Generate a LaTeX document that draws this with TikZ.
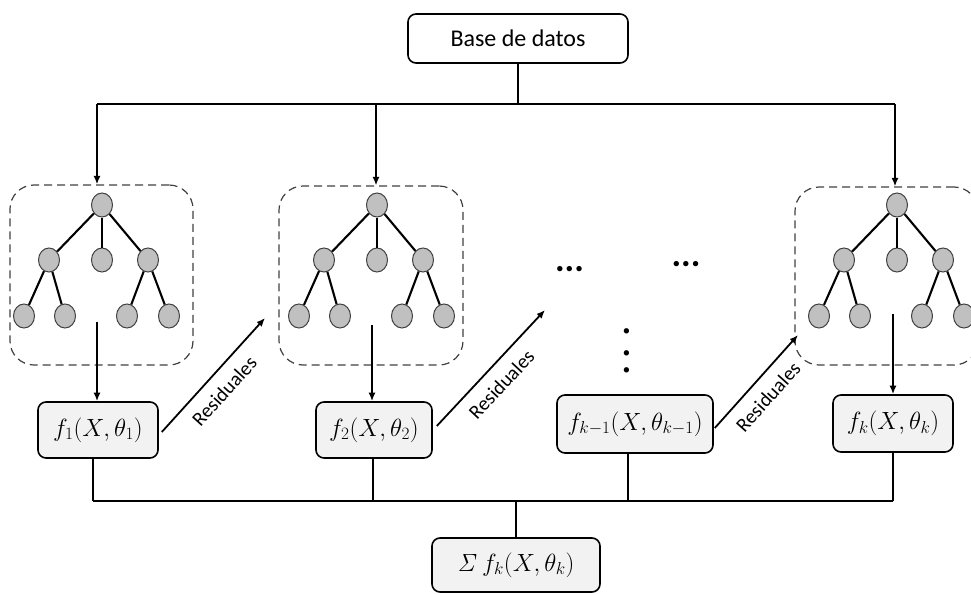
\documentclass[tikz,border=0pt]{standalone}
\usepackage[no-math]{fontspec}
\setmainfont{Carlito}
\usetikzlibrary{arrows.meta,shapes.geometric,calc}

\definecolor{boxgray}{HTML}{F2F2F2}
\definecolor{nodegray}{HTML}{C0C0C0}
\definecolor{nodeborder}{HTML}{3F3F3F}
\definecolor{dashgray}{HTML}{404040}

\tikzset{
  conn/.style={draw=black, line width=1.8pt},
  arr/.style={conn, -{Latex[length=8.5pt,width=7pt]}},
  funcbox/.style={draw=black, line width=1.6pt, rounded corners=8pt, fill=boxgray,
    inner sep=2pt, font=\fontsize{24}{28}\selectfont},
  treebox/.style={draw=dashgray, line width=1.2pt, dash pattern=on 8pt off 5pt,
    rounded corners=24pt, inner sep=0pt},
  tnode/.style={ellipse, draw=nodeborder, line width=1pt, fill=nodegray,
    minimum width=21pt, minimum height=24pt, inner sep=0pt},
  treeedge/.style={draw=black, line width=2.1pt},
  reslabel/.style={font=\fontsize{20}{24}\selectfont, sloped, below, inner ysep=11pt, pos=0.47},
  ellipsisdots/.style={font=\fontsize{36}{40}\selectfont\bfseries, inner sep=0pt}
}

% One decision tree: root, three children, four leaves
\newcommand\drawtree[2]{%
  \node[tnode] (#1r) at (#2,205) {};
  \node[tnode] (#1a) at (#2-53,260) {};
  \node[tnode] (#1b) at (#2,260) {};
  \node[tnode] (#1c) at (#2+46,260) {};
  \node[tnode] (#1l1) at (#2-78,316) {};
  \node[tnode] (#1l2) at (#2-37,316) {};
  \node[tnode] (#1l3) at (#2+25,316) {};
  \node[tnode] (#1l4) at (#2+67,316) {};
  \draw[treeedge] (#1r) -- (#1a);
  \draw[treeedge] (#1r) -- (#1b);
  \draw[treeedge] (#1r) -- (#1c);
  \draw[treeedge] (#1a) -- (#1l1);
  \draw[treeedge] (#1a) -- (#1l2);
  \draw[treeedge] (#1c) -- (#1l3);
  \draw[treeedge] (#1c) -- (#1l4);
}

\begin{document}
\begin{tikzpicture}[x=1pt,y=-1pt]
\useasboundingbox (0,0) rectangle (971,594);
\clip (0,0) rectangle (971,594);

% data source
\node[funcbox, fill=white, minimum width=220pt, minimum height=49pt] (base) at (518,38.5) {Base de datos};

% dashed frames around the trees
\node[treebox, minimum width=183pt, minimum height=180pt] (tb1) at (101.5,275) {};
\node[treebox, minimum width=184pt, minimum height=179pt] (tb2) at (371,275.5) {};
\node[treebox, minimum width=183pt, minimum height=178pt] (tbk) at (886.5,276) {};

\drawtree{ta}{102}
\drawtree{tb}{377}
\drawtree{tk}{897}

% model outputs
\node[funcbox, minimum width=120pt, minimum height=56pt] (f1) at (98,430) {$f_1(X,\theta_1)$};
\node[funcbox, minimum width=116pt, minimum height=56pt] (f2) at (374,430) {$f_2(X,\theta_2)$};
\node[funcbox, minimum width=156pt, minimum height=58pt] (fk1) at (635,424) {$f_{k-1}(X,\theta_{k-1})$};
\node[funcbox, minimum width=120pt, minimum height=57pt] (fk) at (893,423.5) {$f_k(X,\theta_k)$};
\node[funcbox, minimum width=168pt, minimum height=54pt] (sum) at (516,565) {$\mathit{\Sigma}\,f_k(X,\theta_k)$};

% distribution bus from the data source
\coordinate (busL) at (97,104);
\coordinate (busM) at (376,104);
\coordinate (busR) at (895,104);
\draw[conn] (base.south) -- (base.south |- busL);
\draw[conn] (busL) -- (busR);
\draw[arr] (busL) -- (busL |- tb1.north);
\draw[arr] (busM) -- (busM |- tb2.north);
\draw[arr] (busR) -- (busR |- tbk.north);

% tree to model output
\coordinate (s1) at (97,322);
\coordinate (s2) at (372,325);
\coordinate (sk) at (893,314);
\draw[arr] (s1) -- (s1 |- f1.north);
\draw[arr] (s2) -- (s2 |- f2.north);
\draw[arr] (sk) -- (sk |- fk.north);

% residuals passed to the next tree
\coordinate (r1) at (265,318);
\coordinate (r2) at (545,310);
\coordinate (r3) at (798,335);
\draw[arr] ([shift={(3,2)}]f1.east) -- (r1) node[reslabel] {Residuales};
\draw[arr] ([shift={(4,-4)}]f2.east) -- (r2) node[reslabel] {Residuales};
\draw[arr] ([shift={(1,4)}]fk1.east) -- (r3) node[reslabel] {Residuales};

% ellipses for the omitted trees
\node[ellipsisdots] (dotsA) at (569.5,269) {...};
\node[ellipsisdots] (dotsB) at (686,264) {...};
\node[ellipsisdots, rotate=-90] (dotsC) at (627,350.5) {.\kern12.4pt.\kern7.4pt.};

% summation bus
\coordinate (b1) at (93,501);
\coordinate (b2) at (373,501);
\coordinate (b3) at (628,501);
\coordinate (b4) at (893,501);
\draw[conn] (f1.south -| b1) -- (b1);
\draw[conn] (f2.south -| b2) -- (b2);
\draw[conn] (fk1.south -| b3) -- (b3);
\draw[conn] (fk.south -| b4) -- (b4);
\draw[conn] (b1) -- (b4);
\draw[conn] (sum.north) -- (sum.north |- b1);
\end{tikzpicture}
\end{document}
